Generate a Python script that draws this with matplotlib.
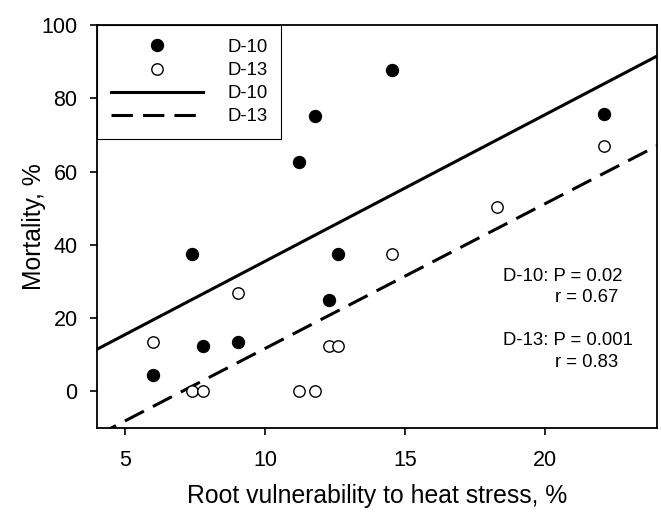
import numpy as np
import matplotlib
matplotlib.use("Agg")
import matplotlib.pyplot as plt

plt.rcParams['font.family'] = ['Liberation Sans', 'DejaVu Sans']

# D-10 (filled) observations
d10_x = [6.0, 7.4, 7.8, 9.05, 11.2, 11.8, 12.3, 12.6, 14.55, 22.1]
d10_y = [4.5, 37.5, 12.5, 13.5, 62.5, 75.2, 25.0, 37.5, 87.7, 75.8]

# D-13 (open) observations
d13_x = [6.0, 7.4, 7.8, 9.05, 11.2, 11.8, 12.3, 12.6, 14.55, 18.3, 22.1]
d13_y = [13.5, 0.0, 0.0, 27.0, 0.0, 0.0, 12.5, 12.5, 37.5, 50.2, 67.0]

# regression lines
fit_labels = ['D-10', 'D-13']
fit_slope = [4.0, 3.95]
fit_intercept = [-4.5, -27.8]
fit_styles = ['-', '--']

x_ticks = [5, 10, 15, 20]
y_ticks = [0, 20, 40, 60, 80, 100]

stats_text = [("D-10: P = 0.02", "r = 0.67"), ("D-13: P = 0.001", "r = 0.83")]

fig = plt.figure(figsize=(6.61, 5.17), dpi=100)
ax = fig.add_axes([0.1467, 0.172, 0.847, 0.7796])

xlim = (4.0, 24.0)
ylim = (-10, 100)

ax.plot(d10_x, d10_y, 'o', color='black', markersize=8.6, label='D-10', zorder=3)
ax.plot(d13_x, d13_y, 'o', markerfacecolor='white', markeredgecolor='black',
        markeredgewidth=1.0, markersize=8.2, label='D-13', zorder=3)

xs = np.array(xlim)
for lab, m, b, ls in zip(fit_labels, fit_slope, fit_intercept, fit_styles):
    line, = ax.plot(xs, m * xs + b, color='black', linewidth=2.2, linestyle=ls, label=lab)
    if ls == '--':
        line.set_dashes((7, 3.3))

ax.set_xlim(*xlim)
ax.set_ylim(*ylim)
ax.set_xticks(x_ticks)
ax.set_yticks(y_ticks)

for s in ax.spines.values():
    s.set_linewidth(1.3)
ax.tick_params(direction='out', length=5, width=1.2, labelsize=15.5)
ax.tick_params(axis='x', pad=11)
ax.tick_params(axis='y', pad=9)

ax.set_xlabel('Root vulnerability to heat stress, %', fontsize=17.8, labelpad=9)
ax.set_ylabel('Mortality, %', fontsize=17.8, labelpad=-3)

# stats annotation
y_pos = [31.5, 25.5, 14.0, 7.8]
for i, (p_txt, r_txt) in enumerate(stats_text):
    ax.text(18.5, y_pos[2 * i], p_txt, fontsize=13.3, ha='left', va='center')
    ax.text(22.62, y_pos[2 * i + 1], r_txt, fontsize=13.3, ha='right', va='center')

leg = ax.legend(loc='upper left', borderaxespad=0, fontsize=13.3, numpoints=1,
                handlelength=5.0, handletextpad=1.3, borderpad=0.75,
                labelspacing=0.33, fancybox=False, framealpha=1)
leg.get_frame().set_edgecolor('black')
leg.get_frame().set_linewidth(0.8)

fig.savefig('out.png', dpi=100)
